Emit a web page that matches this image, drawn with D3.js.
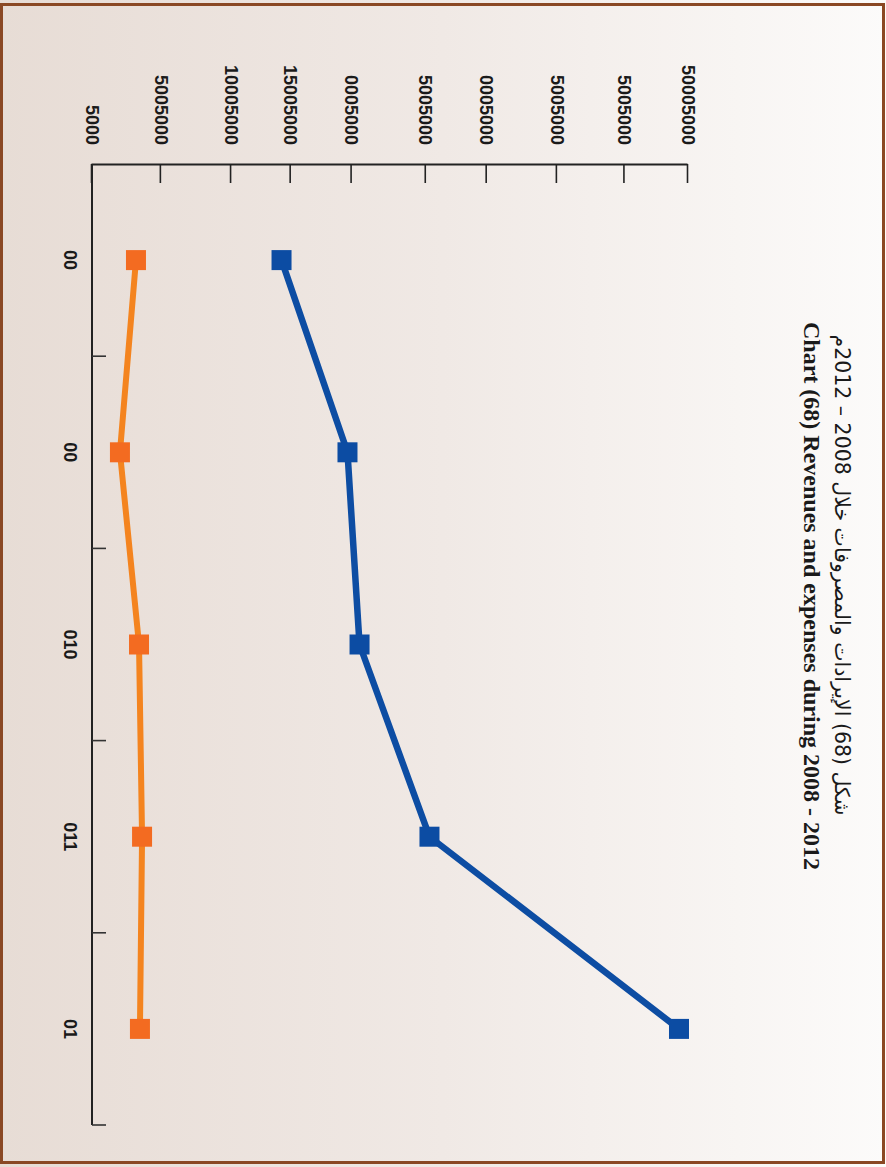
<!DOCTYPE html>
<html>
<head>
<meta charset="utf-8">
<script src="https://cdn.jsdelivr.net/npm/d3@7"></script>
<style>
  body { margin: 0; background: #fff; }
</style>
</head>
<body>
<div id="chart"></div>
<script>
// Chart data
const years = [2008, 2009, 2010, 2011, 2012];
const yearLabels = ["00", "00", "010", "011", "01"];
const revenues = [14.31e6, 19.29e6, 20.20e6, 25.48e6, 44.32e6];
const expenses = [3.32e6, 2.11e6, 3.55e6, 3.78e6, 3.62e6];
const valueTicks = [0, 5.2e6, 10.5e6, 15.0e6, 19.6e6, 25.2e6, 29.8e6, 35.1e6, 40.2e6, 45e6];
const valueTickLabels = ["5000", "5005000", "10005000", "15005000", "0005000", "5005000", "0005000", "5005000", "5005000", "50005000"];
const titleAr = "شكل (68) الإيرادات والمصروفات خلال 2008 – 2012م";
const titleEn = "Chart (68) Revenues and expenses during 2008 - 2012";

const pageW = 886, pageH = 1167;

const svg = d3.select("#chart")
    .append("svg")
    .attr("width", pageW)
    .attr("height", pageH);

// background gradient + border (page coordinates)
const defs = svg.append("defs");
const grad = defs.append("linearGradient")
    .attr("id", "bg")
    .attr("x1", "0").attr("y1", "0").attr("x2", "1").attr("y2", "0");
grad.append("stop").attr("offset", "0%").attr("stop-color", "#e7dcd5");
grad.append("stop").attr("offset", "50%").attr("stop-color", "#f0e9e5");
grad.append("stop").attr("offset", "100%").attr("stop-color", "#fcfbfa");

svg.append("rect")
    .attr("x", 0).attr("y", 0)
    .attr("width", pageW).attr("height", pageH)
    .attr("fill", "url(#bg)");

svg.append("rect")
    .attr("x", 1.5).attr("y", 4.5)
    .attr("width", 882).attr("height", 1158)
    .attr("fill", "none")
    .attr("stroke", "#8a4824")
    .attr("stroke-width", 3);

// the whole chart is turned a quarter turn clockwise
const g = svg.append("g")
    .attr("transform", `translate(${pageW},0) rotate(90)`);

const plot = { left: 164, right: 1125, top: 198, bottom: 794 };

const x = d3.scaleBand()
    .domain(years)
    .range([plot.left, plot.right])
    .padding(0);

const y = d3.scaleLinear()
    .domain([0, 45e6])
    .range([plot.bottom, plot.top]);

const cx = d => x(d) + x.bandwidth() / 2;

// value axis
const yAxis = g.append("g")
    .attr("transform", `translate(${plot.left},0)`)
    .call(d3.axisLeft(y)
        .tickValues(valueTicks)
        .tickFormat((d, i) => valueTickLabels[i])
        .tickSizeInner(-19)
        .tickSizeOuter(0)
        .tickPadding(19));
yAxis.select(".domain").attr("stroke", "#222").attr("stroke-width", 2);
yAxis.selectAll(".tick line").attr("stroke", "#222").attr("stroke-width", 1.6);
yAxis.selectAll(".tick text")
    .attr("fill", "#1a1a1a")
    .style("font-family", "'Liberation Sans', Arial, sans-serif")
    .style("font-weight", "bold")
    .style("font-size", "18px");

// category axis
const xAxis = g.append("g")
    .attr("transform", `translate(0,${plot.bottom})`)
    .call(d3.axisBottom(x)
        .tickFormat((d, i) => yearLabels[i])
        .tickSize(0)
        .tickPadding(15));
xAxis.select(".domain").remove();
xAxis.selectAll(".tick text")
    .attr("fill", "#1a1a1a")
    .style("font-family", "'Liberation Sans', Arial, sans-serif")
    .style("font-weight", "bold")
    .style("font-size", "18px");

g.append("line")
    .attr("x1", plot.left).attr("x2", plot.right)
    .attr("y1", plot.bottom).attr("y2", plot.bottom)
    .attr("stroke", "#222")
    .attr("stroke-width", 2);

// category boundary ticks
g.append("g").selectAll("line")
    .data(years)
    .join("line")
    .attr("x1", d => x(d) + x.step())
    .attr("x2", d => x(d) + x.step())
    .attr("y1", plot.bottom)
    .attr("y2", plot.bottom - 14)
    .attr("stroke", "#333")
    .attr("stroke-width", 1.6);

// series
const series = [
    { name: "Revenues", values: revenues, line: "#0d4da3", mark: "#0c4ca3", width: 6.5 },
    { name: "Expenses", values: expenses, line: "#f4841f", mark: "#f36b21", width: 6 }
];

const line = d3.line()
    .x((d, i) => cx(years[i]))
    .y(d => y(d));

const mk = 20;
series.forEach(s => {
    g.append("path")
        .datum(s.values)
        .attr("fill", "none")
        .attr("stroke", s.line)
        .attr("stroke-width", s.width)
        .attr("stroke-linejoin", "round")
        .attr("d", line);

    g.append("g").selectAll("rect")
        .data(s.values)
        .join("rect")
        .attr("x", (d, i) => cx(years[i]) - mk / 2)
        .attr("y", d => y(d) - mk / 2)
        .attr("width", mk)
        .attr("height", mk)
        .attr("fill", s.mark);
});

// titles
g.append("text")
    .attr("x", 575)
    .attr("y", 51)
    .attr("text-anchor", "middle")
    .attr("direction", "rtl")
    .style("direction", "rtl")
    .style("font-family", "'DejaVu Sans', sans-serif")
    .style("font-size", "20.5px")
    .attr("fill", "#1a1a1a")
    .text(titleAr);

g.append("text")
    .attr("x", 596)
    .attr("y", 82)
    .attr("text-anchor", "middle")
    .style("font-family", "'Liberation Serif', 'Times New Roman', serif")
    .style("font-weight", "bold")
    .style("font-size", "24px")
    .attr("fill", "#1a1a1a")
    .text(titleEn);
</script>
</body>
</html>
